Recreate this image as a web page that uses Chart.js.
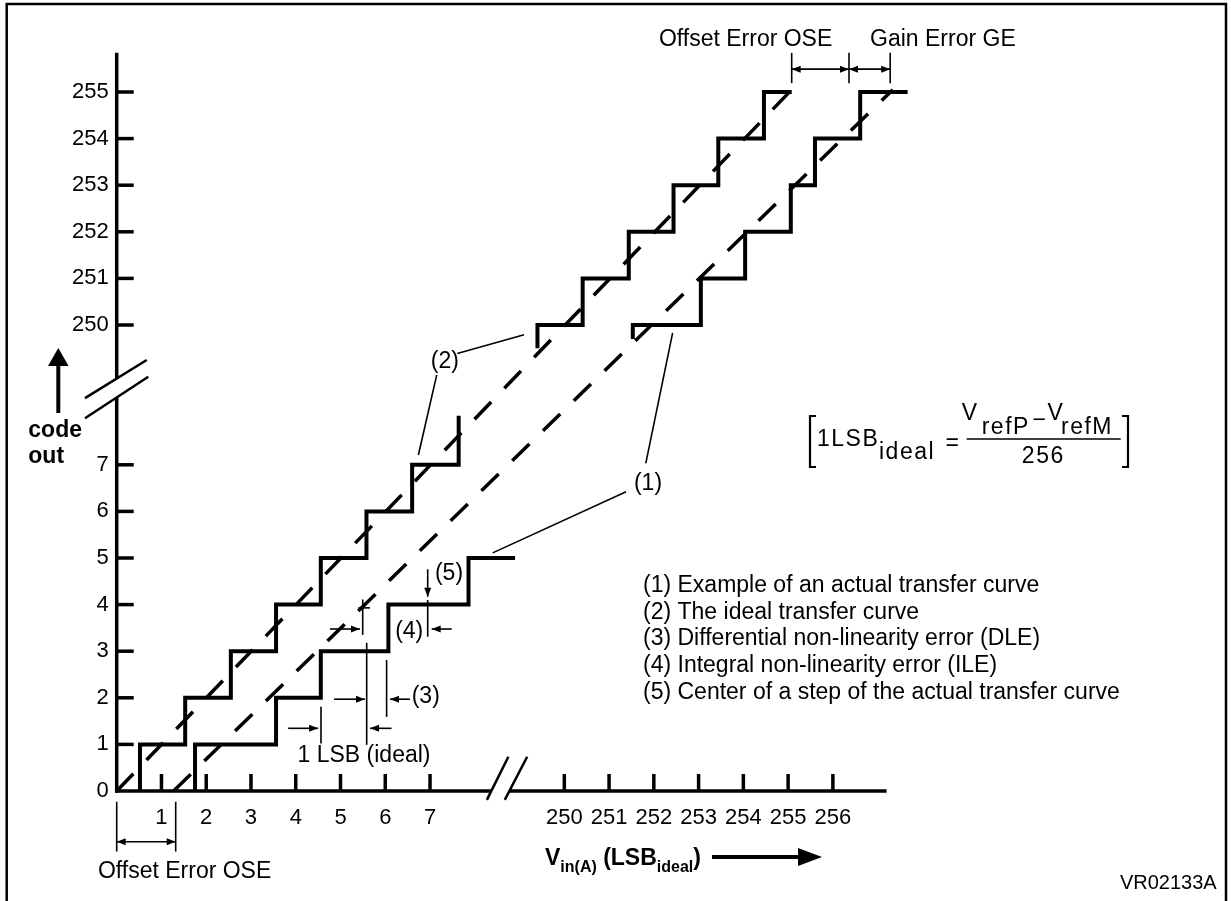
<!DOCTYPE html>
<html>
<head>
<meta charset="utf-8">
<script src="https://cdn.jsdelivr.net/npm/chart.js@4.4.1/dist/chart.umd.min.js"></script>
<style>
  html, body { margin: 0; padding: 0; background: #fff; }
  canvas { display: block; }
</style>
</head>
<body>
<canvas id="adcChart" width="1231" height="901"></canvas>
<script>
//Tick values (LSB on x, output code on y). Both axes are broken between ~8 and ~249
const xTicks = [1, 2, 3, 4, 5, 6, 7, 250, 251, 252, 253, 254, 255, 256];
const yTicks = [0, 1, 2, 3, 4, 5, 6, 7, 250, 251, 252, 253, 254, 255];

//(2) ideal transfer curve - step corners
const idealLowX  = [0.52, 0.52, 1.53, 1.53, 2.55, 2.55, 3.56, 3.56, 4.56, 4.56, 5.58, 5.58, 6.6, 6.6, 7.64, 7.64];
const idealLowY  = [0, 1, 1, 2, 2, 3, 3, 4, 4, 5, 5, 6, 6, 7, 7, 8.05];
const idealHighX = [249.4, 249.4, 250.41, 250.41, 251.44, 251.44, 252.44, 252.44, 253.44, 253.44, 254.46, 254.46, 255.08];
const idealHighY = [249.5, 250, 250, 251, 251, 252, 252, 253, 253, 254, 254, 255, 255];

//(1) actual transfer curve - step corners
const actualLowX  = [1.75, 1.75, 3.56, 3.56, 4.56, 4.56, 6.07, 6.07, 7.86, 7.86, 8.9];
const actualLowY  = [0, 1, 1, 2, 2, 3, 3, 4, 4, 5, 5];
const actualHighX = [251.53, 251.53, 253.05, 253.05, 254.04, 254.04, 255.06, 255.06, 255.6, 255.6, 256.61, 256.61, 257.67];
const actualHighY = [249.7, 250, 250, 251, 251, 252, 252, 253, 253, 254, 254, 255, 255];

//dashed straight lines through the step centres
const idealLineX  = [0, 255.08];
const idealLineY  = [0, 255.05];
const actualLineX = [1.27, 257.34];
const actualLineY = [0, 255.05];

const legendLines = [
  "(1) Example of an actual transfer curve",
  "(2) The ideal transfer curve",
  "(3) Differential non-linearity error (DLE)",
  "(4) Integral non-linearity error (ILE)",
  "(5) Center of a step of the actual transfer curve"
];

//fold the upper part of the axes next to the lower part (axis break)
const fold = v => v > 100 ? v - 240 : v;
const unfold = v => v > 8.6 ? v + 240 : v;
const pts = (xs, ys) => xs.map((x, i) => ({ x: fold(x), y: fold(ys[i]) }));

const FONT = '"Liberation Sans", Arial, sans-serif';
Chart.defaults.font.family = FONT;
Chart.defaults.color = '#000';

function stepSet(xs, ys) {
  return { data: pts(xs, ys), showLine: true, borderColor: '#000', borderWidth: 4,
           borderJoinStyle: 'miter', borderCapStyle: 'butt', pointRadius: 0, clip: false };
}
function dashSet(xs, ys) {
  return { data: pts(xs, ys), showLine: true, borderColor: '#000', borderWidth: 3.5,
           borderDash: [24, 19], borderCapStyle: 'butt', pointRadius: 0, clip: false };
}

//Annotations, in axis units
const leaders = [
  [7.61, 9.39, 9.10, 9.79], [7.15, 8.93, 6.74, 7.21],
  [12.42, 9.83, 11.82, 7.03], [11.38, 6.42, 8.40, 5.11]
];
const markLines = [
  [4.564, 1.02, 4.564, 1.81], [5.585, 0.99, 5.585, 3.18], [6.03, 1.59, 6.03, 2.81],
  [5.496, 3.35, 5.496, 4.11], [5.40, 3.93, 5.66, 3.93], [6.948, 3.31, 6.948, 4.10]
];
const markArrows = [
  [3.83, 1.345, 4.50, 1.345], [6.14, 1.345, 5.66, 1.345],
  [4.855, 1.97, 5.547, 1.97], [6.55, 1.97, 6.106, 1.97],
  [4.765, 3.476, 5.435, 3.476], [7.484, 3.476, 7.037, 3.476],
  [6.948, 4.757, 6.948, 4.17]
];

const drawing = {
  id: 'drawing',
  afterDraw(chart) {
    const ctx = chart.ctx, sx = chart.scales.x, sy = chart.scales.y;
    const X = v => sx.getPixelForValue(v), Y = v => sy.getPixelForValue(v);
    ctx.save();
    ctx.strokeStyle = '#000'; ctx.fillStyle = '#000'; ctx.lineCap = 'butt';

    function seg(x1, y1, x2, y2, w) {
      ctx.lineWidth = w; ctx.beginPath(); ctx.moveTo(x1, y1); ctx.lineTo(x2, y2); ctx.stroke();
    }
    function head(x1, y1, x2, y2, len, w) {
      const a = Math.atan2(y2 - y1, x2 - x1), c = Math.cos(a), s = Math.sin(a);
      ctx.beginPath(); ctx.moveTo(x2, y2);
      ctx.lineTo(x2 - len * c + w * s, y2 - len * s - w * c);
      ctx.lineTo(x2 - len * c - w * s, y2 - len * s + w * c);
      ctx.closePath(); ctx.fill();
    }
    function arrow(x1, y1, x2, y2) { seg(x1, y1, x2, y2, 1.6); head(x1, y1, x2, y2, 9, 3.5); }
    function txt(s, x, y, font, align, base) {
      ctx.font = font; ctx.textAlign = align || 'left'; ctx.textBaseline = base || 'middle'; ctx.fillText(s, x, y);
    }
    const F = '23px ' + FONT, FB = 'bold 23px ' + FONT, FBS = 'bold 16px ' + FONT;

    //frame
    ctx.lineWidth = 2.5; ctx.beginPath();
    ctx.moveTo(6.7, 905); ctx.lineTo(6.7, 4); ctx.lineTo(1226, 4); ctx.lineTo(1226, 905); ctx.stroke();

    //axes with breaks
    const x0 = X(0), y0 = Y(0);
    seg(x0, y0 + 1.7, x0, Y(8.44), 3.5);
    seg(x0, Y(8.85), x0, Y(15.84), 3.5);
    seg(x0 - 1.7, y0, X(8.37), y0, 3.5);
    seg(X(8.78), y0, X(17.2), y0, 3.5);
    seg(X(-0.708), Y(8.43), X(0.671), Y(9.25), 2.5);
    seg(X(-0.708), Y(8.0), X(0.706), Y(8.89), 2.5);
    seg(X(8.27), Y(-0.19), X(8.75), Y(0.736), 2.5);
    seg(X(8.67), Y(-0.19), X(9.17), Y(0.736), 2.5);

    //tick marks pointing inwards
    sx.ticks.forEach(t => seg(X(t.value), y0, X(t.value), y0 - 17, 3.5));
    sy.ticks.forEach(t => { if (t.value > 0) seg(x0, Y(t.value), x0 + 17, Y(t.value), 3.5); });

    //callouts
    leaders.forEach(l => seg(X(l[0]), Y(l[1]), X(l[2]), Y(l[3]), 1.6));
    txt('(2)', X(7.33), Y(9.21), F, 'center');
    txt('(1)', X(11.87), Y(6.59), F, 'center');

    //DLE / ILE / 1 LSB markers
    markLines.forEach(l => seg(X(l[0]), Y(l[1]), X(l[2]), Y(l[3]), 1.6));
    markArrows.forEach(a => arrow(X(a[0]), Y(a[1]), X(a[2]), Y(a[3])));
    txt('1 LSB (ideal)', X(5.525), Y(0.75), F, 'center');
    txt('(3)', X(6.59), Y(2.02), F, 'left');
    txt('(4)', X(6.535), Y(3.42), F, 'center');
    txt('(5)', X(7.11), Y(4.66), F, 'left');

    //offset / gain error at the top
    [15.08, 16.36, 17.28].forEach(v => seg(X(v), Y(15.19), X(v), Y(15.84), 1.6));
    [[15.08, 16.36], [16.36, 17.28]].forEach(p => {
      seg(X(p[0]), Y(15.49), X(p[1]), Y(15.49), 1.6);
      head(X(p[1]), Y(15.49), X(p[0]), Y(15.49), 9, 3.5);
      head(X(p[0]), Y(15.49), X(p[1]), Y(15.49), 9, 3.5);
    });
    txt('Offset Error OSE', X(14.05), Y(16.12), F, 'center');
    txt('Gain Error GE', X(16.83), Y(16.12), F, 'left');

    //offset error at the bottom
    [0, 1.318].forEach(v => seg(X(v), Y(-0.23), X(v), Y(-1.30), 1.6));
    seg(X(0), Y(-1.088), X(1.318), Y(-1.088), 1.6);
    head(X(1.318), Y(-1.088), X(0), Y(-1.088), 9, 3.5);
    head(X(0), Y(-1.088), X(1.318), Y(-1.088), 9, 3.5);
    txt('Offset Error OSE', X(-0.42), Y(-1.73), F, 'left');

    //y axis title + arrow
    txt('code', 28.3, 431, FB, 'left');
    txt('out', 28.3, 456.7, FB, 'left');
    seg(58.3, 413, 58.3, 362, 4);
    ctx.beginPath(); ctx.moveTo(48, 366); ctx.lineTo(68.6, 366); ctx.lineTo(58.3, 348); ctx.closePath(); ctx.fill();

    //x axis title + arrow
    let cx = 545;
    const runs = [['V', FB, 0], ['in(A)', FBS, 7], [' (LSB', FB, 0], ['ideal', FBS, 7], [')', FB, 0]];
    runs.forEach(r => {
      ctx.font = r[1]; ctx.textAlign = 'left'; ctx.textBaseline = 'alphabetic';
      ctx.fillText(r[0], cx, 865 + r[2]); cx += ctx.measureText(r[0]).width;
    });
    seg(712, 857, 802, 857, 4);
    ctx.beginPath(); ctx.moveTo(798, 848); ctx.lineTo(822, 857); ctx.lineTo(798, 866); ctx.closePath(); ctx.fill();

    //formula
    ctx.letterSpacing = '1.5px';
    txt('1LSB', 817, 446, F, 'left', 'alphabetic');
    txt('ideal', 879, 459, F, 'left', 'alphabetic');
    txt('=', 953, 444, F, 'center', 'middle');
    txt('V', 961.7, 420, F, 'left', 'alphabetic');
    txt('refP', 981.7, 434, F, 'left', 'alphabetic');
    txt('\u2212', 1040, 421, F, 'center', 'middle');
    txt('V', 1047.5, 420, F, 'left', 'alphabetic');
    txt('refM', 1061, 434, F, 'left', 'alphabetic');
    txt('256', 1043.3, 463, F, 'center', 'alphabetic');
    ctx.letterSpacing = '0px';
    seg(966.7, 439, 1120.7, 439, 1.5);
    ctx.lineWidth = 2.2; ctx.beginPath();
    ctx.moveTo(816, 416); ctx.lineTo(810, 416); ctx.lineTo(810, 467); ctx.lineTo(816, 467);
    ctx.moveTo(1122, 416); ctx.lineTo(1128, 416); ctx.lineTo(1128, 467); ctx.lineTo(1122, 467);
    ctx.stroke();

    //legend text
    legendLines.forEach((s, i) => txt(s, 643, 585.6 + i * 26.7, F, 'left'));

    txt('VR02133A', 1216.7, 883, '20px ' + FONT, 'right');
    ctx.restore();
  }
};

new Chart(document.querySelector('#adcChart'), {
  type: 'scatter',
  data: {
    datasets: [
      stepSet(idealLowX, idealLowY),
      stepSet(idealHighX, idealHighY),
      stepSet(actualLowX, actualLowY),
      stepSet(actualHighX, actualHighY),
      dashSet(idealLineX, idealLineY),
      dashSet(actualLineX, actualLineY)
    ]
  },
  options: {
    responsive: false,
    animation: false,
    events: [],
    layout: { padding: { left: 56.7, right: 308.6, top: 45.4, bottom: 60 } },
    plugins: { legend: { display: false }, tooltip: { enabled: false } },
    scales: {
      x: {
        type: 'linear', min: 0, max: 18,
        afterFit: s => { s.height = 50; },
        afterBuildTicks: s => { s.ticks = xTicks.map(v => ({ value: fold(v) })); },
        grid: { display: false, drawTicks: false },
        border: { display: false },
        ticks: { autoSkip: false, maxRotation: 0, padding: 14, font: { size: 22 },
                 callback: v => String(unfold(v)) }
      },
      y: {
        type: 'linear', min: 0, max: 16,
        afterFit: s => { s.width = 60; },
        afterBuildTicks: s => { s.ticks = yTicks.map(v => ({ value: fold(v) })); },
        grid: { display: false, drawTicks: false },
        border: { display: false },
        ticks: { autoSkip: false, padding: 8, font: { size: 22 },
                 callback: v => String(unfold(v)) }
      }
    }
  },
  plugins: [drawing]
});
</script>
</body>
</html>
